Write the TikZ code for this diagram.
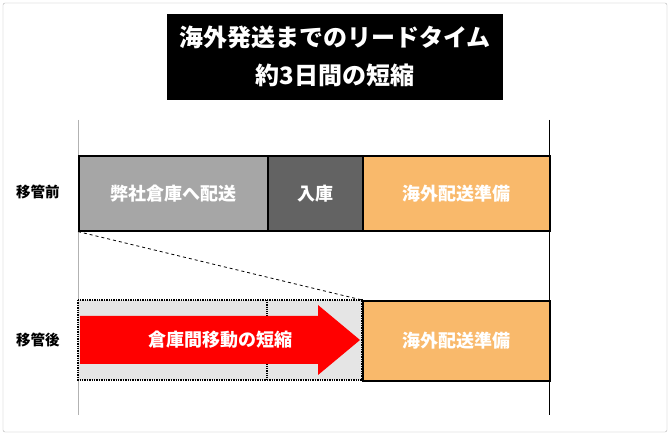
\documentclass[tikz,border=0pt]{standalone}
\usepackage{fontspec}
\newfontfamily\cjk{Noto Sans CJK JP}
\begin{document}
\begin{tikzpicture}[x=1pt,y=-1pt,
  box/.style={draw=black,line width=1.6pt},
  lbl/.style={font=\cjk\bfseries\fontsize{18}{20}\selectfont,text=white},
  side/.style={font=\cjk\bfseries\fontsize{14.5}{16}\selectfont}]
\useasboundingbox (0,0) rectangle (670,435);
\definecolor{lg}{HTML}{A6A6A6}
\definecolor{dg}{HTML}{636363}
\definecolor{og}{HTML}{F9B96B}
\draw[gray!60,rounded corners=2pt] (3,3) rectangle (667,432);
\node[fill=black,minimum width=336pt,minimum height=86pt,anchor=north west] (title) at (167,14) {};
\node[lbl,font=\cjk\bfseries\fontsize{24}{26}\selectfont] (t1) at (335,37) {海外発送までのリードタイム};
\node[lbl,font=\cjk\bfseries\fontsize{24}{26}\selectfont] (t2) at (335,75) {約3日間の短縮};
\draw[gray!60] (78,120) -- (78,415);
\draw[black,line width=0.8pt] (549,120) -- (549,415);
\fill[gray!20] (78,300) rectangle (362,380);
\draw[densely dotted,line width=1.4pt] (78,300) rectangle (362,380);
\draw[densely dotted,line width=1.2pt] (267,300) -- (267,380);
\node[box,fill=lg,minimum width=189pt,minimum height=75pt,anchor=north west,inner sep=0] (a) at (78,155) {};
\node[lbl] at (a) {弊社倉庫へ配送};
\node[box,fill=dg,minimum width=95pt,minimum height=75pt,anchor=north west,inner sep=0] (b) at (267,155) {};
\node[lbl] at (b) {入庫};
\node[box,fill=og,minimum width=187pt,minimum height=75pt,anchor=north west,inner sep=0] (c) at (362,155) {};
\node[lbl] at (c) {海外配送準備};
\node[box,fill=og,minimum width=187pt,minimum height=80pt,anchor=north west,inner sep=0] (d) at (362,300) {};
\node[lbl] at (d) {海外配送準備};
\coordinate (p1) at (a.south west);
\coordinate (p2) at (d.north west);
\draw[dashed,line width=0.8pt] (p1) -- (p2);
\fill[red] (80,316) -- (318,316) -- (318,305) -- (360,340) -- (318,375) -- (318,364) -- (80,364) -- cycle;
\node[lbl] (arr) at (220,340) {倉庫間移動の短縮};
\node[side] (s1) at (38,192) {移管前};
\node[side] (s2) at (38,340) {移管後};
\end{tikzpicture}
\end{document}
